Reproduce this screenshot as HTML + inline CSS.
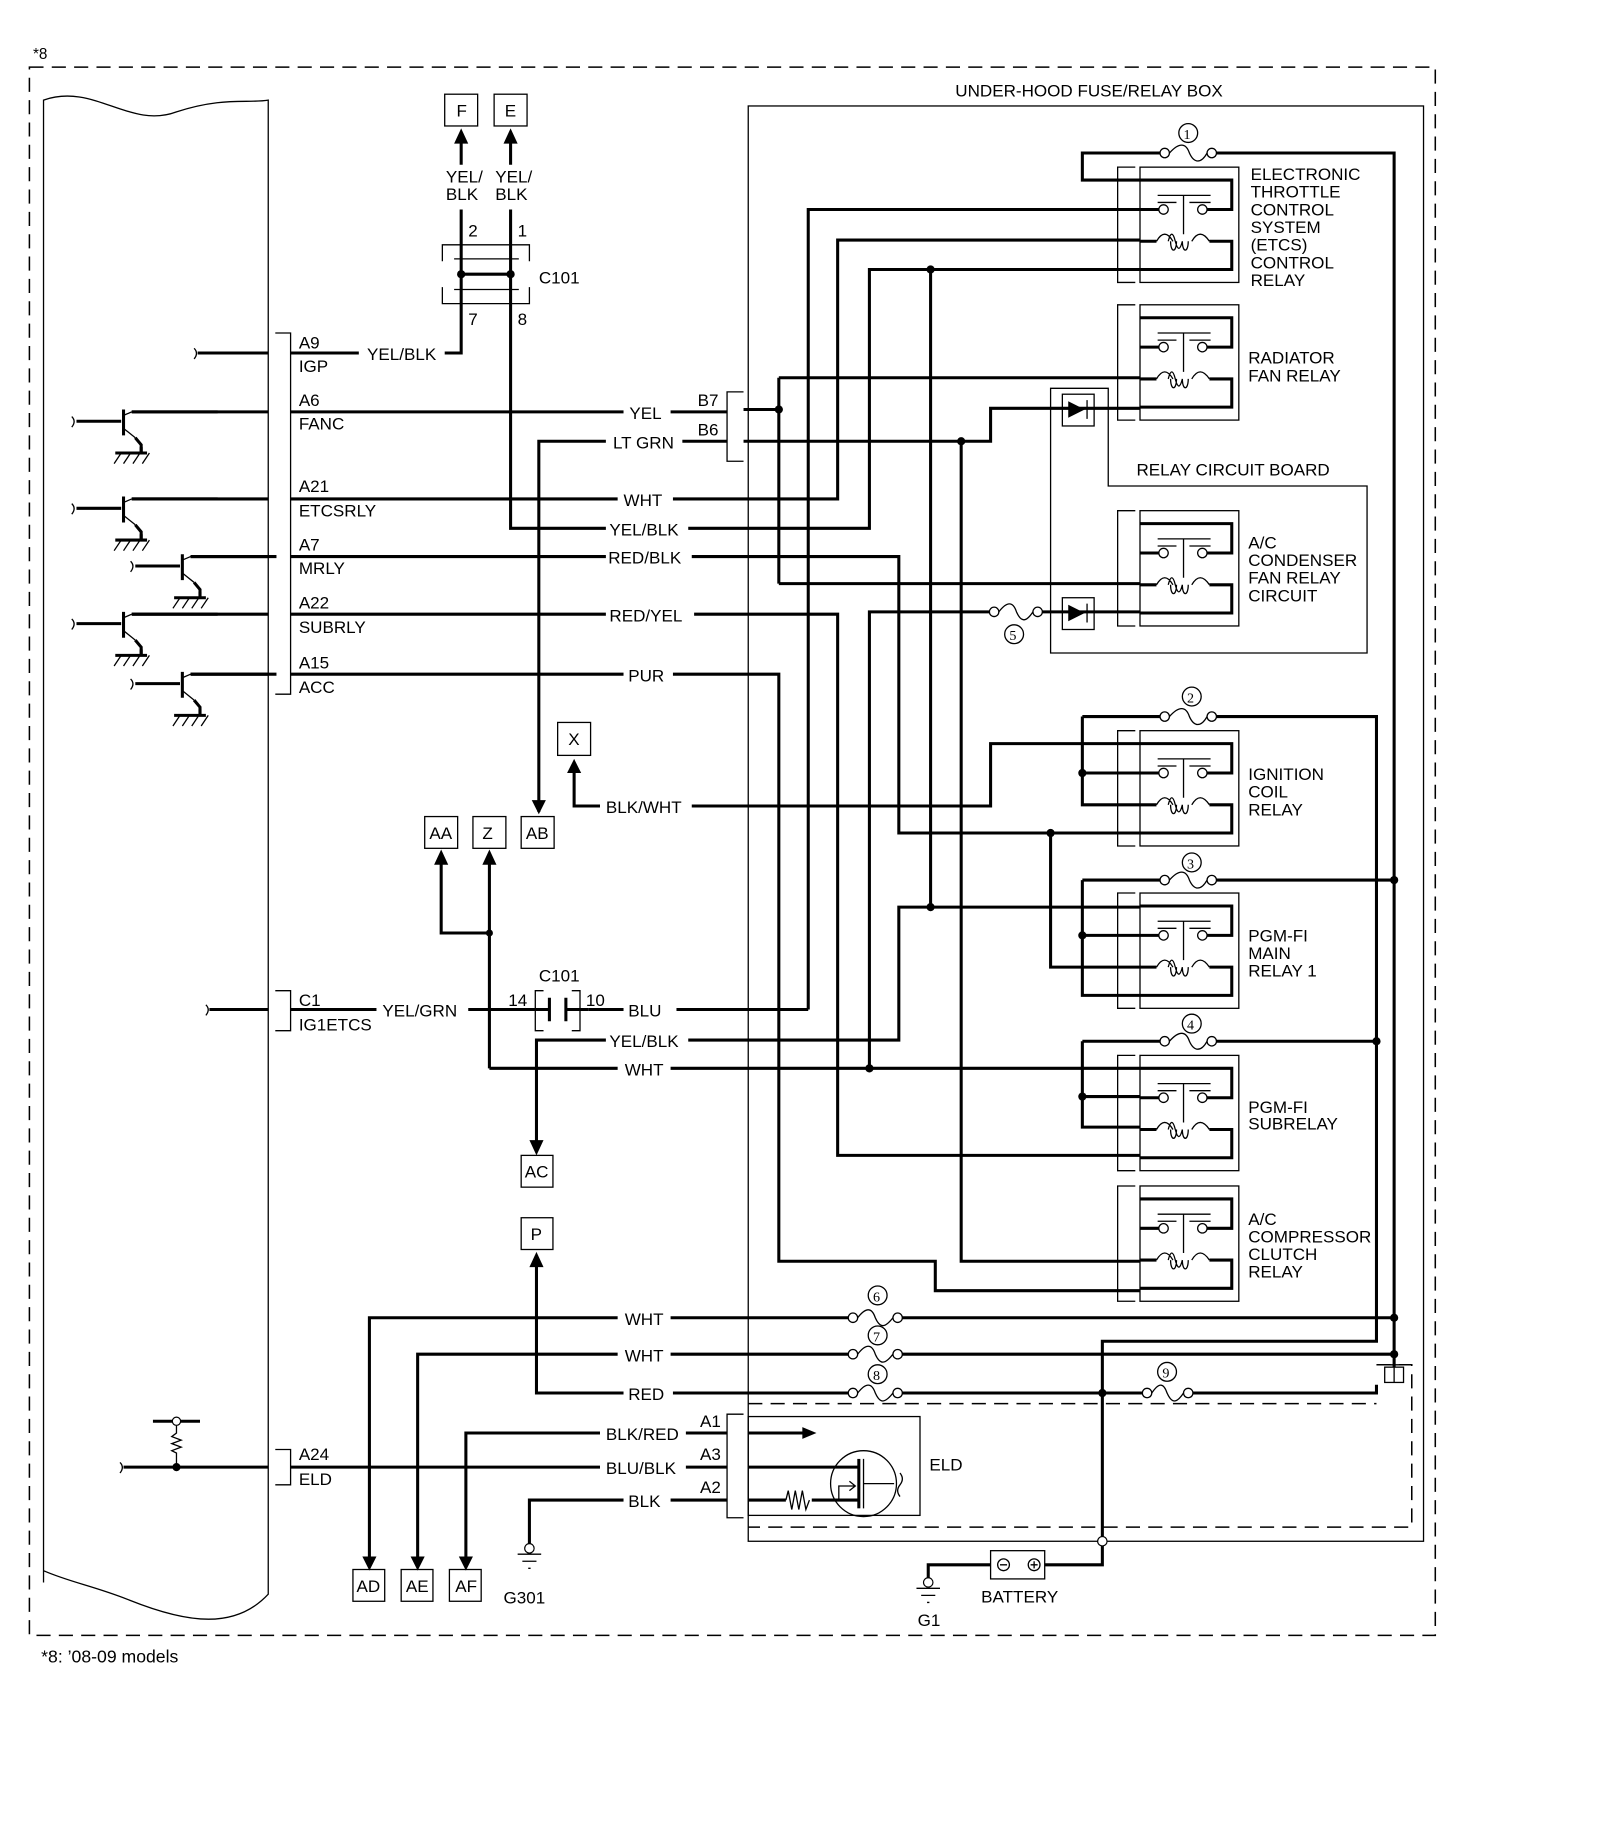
<!DOCTYPE html>
<html><head><meta charset="utf-8"><style>
html,body{margin:0;padding:0;background:#fff}
svg{display:block}
text{font-family:"Liberation Sans",Arial,sans-serif;font-size:14.5px;fill:#000}
.w{stroke:#000;stroke-width:2.6;fill:none}
.t{stroke:#000;stroke-width:1.1;fill:none}
.d{stroke:#000;stroke-width:1.3;fill:none;stroke-dasharray:12 7}
</style></head><body>
<svg width="1600" height="1839" viewBox="0 0 1360 1563" xmlns="http://www.w3.org/2000/svg">
<defs>
<g id="relay">
<path class="t" d="M965,0 H950 V98 H965"/>
<rect class="t" x="969" y="0" width="84" height="98"/>
<path class="w" d="M969,11 H1047 V36 H1026 M969,36 H985 M969,63 H983 M1028,63 H1047 V87 H969"/>
<circle class="t" cx="989" cy="36" r="4"/><circle class="t" cx="1022" cy="36" r="4"/>
<path class="t" d="M984,24 H1029 M984,30 H1000 M1011,30 H1029 M1006,24 V57"/>
<path class="t" d="M983,63 q7,-12 14,0 M993,63 q3,-12 6,0 q3,12 6,0 M1013,63 q7,-12 15,0 M995,63 c0,10 5,10 5,0 M1005,63 c0,10 5,10 5,0"/>
</g>
<g id="tr">
<path class="w" d="M0,8 H38 M40,-2 V20 M55,30 V35"/>
<path class="t" d="M40,3 L47,0 M40,14 L50,22"/>
<path class="w" d="M47,0 H120"/>
<path class="w" d="M50,22 L55,28 V35"/>
<path class="w" d="M33,35 H60"/>
<path class="t" d="M38,35 l-6,9 M46,35 l-6,9 M54,35 l-6,9 M62,35 l-6,9 M-4,4 q4,4 0,9"/>
</g>
</defs>

<text x="28" y="50" style="font-size:13px">*8</text>
<rect class="d" x="25" y="57" width="1195" height="1333"/>
<text x="35" y="1413" style="font-size:15px">*8:  ’08-09 models</text>

<path class="t" d="M37,1345 V85 C80,70 110,110 150,95 C190,82 210,88 228,85 V1355 C200,1385 160,1380 110,1360 C80,1348 60,1345 37,1335"/>

<path class="t" d="M234,283 H247 V590 H234"/>
<path class="t" d="M234,842 H247 V876 H234"/>
<path class="t" d="M234,1232 H247 V1262 H234"/>
<text x="254" y="296">A9</text><text x="254" y="316">IGP</text>
<text x="254" y="345">A6</text><text x="254" y="365">FANC</text>
<text x="254" y="418">A21</text><text x="254" y="439">ETCSRLY</text>
<text x="254" y="468">A7</text><text x="254" y="488">MRLY</text>
<text x="254" y="517">A22</text><text x="254" y="538">SUBRLY</text>
<text x="254" y="568">A15</text><text x="254" y="589">ACC</text>
<text x="254" y="855">C1</text><text x="254" y="876">IG1ETCS</text>
<text x="254" y="1241">A24</text><text x="254" y="1262">ELD</text>

<use href="#tr" transform="translate(65,350)"/>
<path class="w" d="M112,350 H228"/>
<use href="#tr" transform="translate(65,424)"/>
<use href="#tr" transform="translate(115,473)"/>
<use href="#tr" transform="translate(65,522)"/>
<use href="#tr" transform="translate(115,573)"/>
<path class="w" d="M112,424 H228 M162,473 H228 M112,522 H228 M162,573 H228"/>
<path class="w" d="M168,300 H228 M178,858 H228 M105,1247 H228"/>
<path class="t" d="M165,296 q4,4 0,9 M175,854 q4,4 0,9 M102,1243 q4,4 0,9"/>
<path class="w" d="M130,1208 H170"/>
<circle cx="150" cy="1208" r="3.5" fill="#fff" stroke="#000"/>
<path class="t" d="M150,1212 V1218 l-4,3 l8,3 l-8,3 l8,3 l-8,3 l4,2 V1247"/>
<circle cx="150" cy="1247" r="3.5"/>

<path class="w" d="M247,300 H305 M378,300 H392 V258"/>
<text x="312" y="306">YEL/BLK</text>
<path class="w" d="M247,350 H530 M570,350 H618"/><text x="535" y="356">YEL</text>
<path class="w" d="M458,690 V375 H515 M580,375 H618"/>
<path d="M452,680 L458,692 L464,680z"/>
<text x="521" y="381">LT GRN</text>
<path class="w" d="M247,424 H525 M572,424 H712 V204 H969"/><text x="530" y="430">WHT</text>
<path class="w" d="M434,258 V449 H515 M585,449 H739 V229 H969"/><text x="518" y="455">YEL/BLK</text>
<path class="w" d="M247,473 H515 M588,473 H764 V708 H969"/><text x="517" y="479">RED/BLK</text>
<path class="w" d="M247,522 H515 M590,522 H712 V982 H969"/><text x="518" y="528">RED/YEL</text>
<path class="w" d="M247,573 H530 M572,573 H662 V1072 H795 V1097 H969"/><text x="534" y="579">PUR</text>
<path class="w" d="M488,655 V685 H510 M588,685 H842 V632 H969"/>
<path d="M482,657 L488,645 L494,657z"/>
<rect class="t" x="474" y="614" width="28" height="28"/><text x="483" y="633">X</text>
<text x="515" y="691">BLK/WHT</text>

<rect class="t" x="378" y="80" width="28" height="27"/><text x="388" y="99">F</text>
<rect class="t" x="420" y="80" width="28" height="27"/><text x="429" y="99">E</text>
<path class="w" d="M392,140 V118 M434,140 V118"/>
<path d="M386,122 L392,109 L398,122z M428,122 L434,109 L440,122z"/>
<text x="379" y="155">YEL/</text><text x="379" y="170">BLK</text>
<text x="421" y="155">YEL/</text><text x="421" y="170">BLK</text>
<path class="w" d="M392,178 V258 M434,178 V258 M392,233 H434"/>
<circle cx="392" cy="233" r="3.5"/><circle cx="434" cy="233" r="3.5"/>
<path class="t" d="M376,222 V208 H450 V222 M376,244 V258 H450 V244 M386,220 H441 M386,246 H441"/>
<text x="398" y="201">2</text><text x="440" y="201">1</text>
<text x="398" y="276">7</text><text x="440" y="276">8</text>
<text x="458" y="241">C101</text>

<path class="t" d="M632,333 H618 V392 H632"/>
<text x="593" y="345">B7</text><text x="593" y="370">B6</text>
<path class="w" d="M632,348 H662 M662,321 V496 M662,321 H969 M662,496 H969"/>
<circle cx="662" cy="348" r="3.5"/>
<path class="w" d="M632,375 H842 V347 H969 M817,375 V1072 H969"/>
<circle cx="817" cy="375" r="3.5"/>
<path class="w" d="M687,858 V178 H969"/>
<path class="w" d="M739,908 V520 H845 M882,520 H969"/>
<path class="w" d="M791,229 V771"/><circle cx="791" cy="229" r="3.5"/>
<circle cx="791" cy="771" r="3.5"/>
<path class="w" d="M893,708 V822 H969"/><circle cx="893" cy="708" r="3.5"/>

<rect class="t" x="361" y="694" width="28" height="27"/><text x="365" y="713">AA</text>
<rect class="t" x="402" y="694" width="28" height="27"/><text x="410" y="713">Z</text>
<rect class="t" x="443" y="694" width="28" height="27"/><text x="447" y="713">AB</text>
<path class="w" d="M416,908 V732 M416,793 H375 V732"/>
<path d="M410,735 L416,722 L422,735z M369,735 L375,722 L381,735z"/>
<circle cx="416" cy="793" r="3"/>

<path class="w" d="M247,858 H320 M398,858 H455"/><text x="325" y="864">YEL/GRN</text>
<path class="t" d="M462,842 H455 V876 H462 M486,842 H493 V876 H486"/>
<path class="w" d="M467,848 V868 M481,848 V868 M455,858 H467 M481,858 H500"/>
<text x="458" y="834">C101</text><text x="432" y="855">14</text><text x="498" y="855">10</text>
<path class="w" d="M500,858 H530 M575,858 H687"/><text x="534" y="864">BLU</text>
<path class="w" d="M456,972 V884 H515 M585,884 H764 V771 H969"/>
<path d="M450,969 L456,982 L462,969z"/>
<text x="518" y="890">YEL/BLK</text>
<path class="w" d="M416,908 H525 M570,908 H969"/><text x="531" y="914">WHT</text>
<circle cx="739" cy="908" r="3.5"/>
<rect class="t" x="443" y="982" width="27" height="27"/><text x="446" y="1001">AC</text>
<rect class="t" x="443" y="1035" width="27" height="27"/><text x="451" y="1054">P</text>

<path class="w" d="M314,1325 V1120 H525 M570,1120 H725 M763,1120 H1185"/><text x="531" y="1126">WHT</text>
<path class="w" d="M355,1325 V1151 H525 M570,1151 H725 M763,1151 H1185"/><text x="531" y="1157">WHT</text>
<path class="w" d="M456,1075 V1184 H530 M572,1184 H725 M763,1184 H975 M1010,1184 H1170 V1177"/><text x="534" y="1190">RED</text>
<path d="M450,1077 L456,1064 L462,1077z"/>
<path class="w" d="M396,1325 V1218 H510 M583,1218 H618"/><text x="515" y="1224">BLK/RED</text>
<path class="w" d="M247,1247 H510 M583,1247 H618"/><text x="515" y="1253">BLU/BLK</text>
<path class="w" d="M450,1312 V1275 H530 M570,1275 H618"/><text x="534" y="1281">BLK</text>
<path d="M308,1323 L314,1335 L320,1323z M349,1323 L355,1335 L361,1323z M390,1323 L396,1335 L402,1323z"/>
<rect class="t" x="300" y="1334" width="27" height="27"/><text x="303" y="1353">AD</text>
<rect class="t" x="341" y="1334" width="27" height="27"/><text x="345" y="1353">AE</text>
<rect class="t" x="382" y="1334" width="27" height="27"/><text x="387" y="1353">AF</text>
<circle cx="450" cy="1316" r="4" fill="#fff" stroke="#000"/>
<path class="t" d="M440,1321 H460 M444,1327 H456 M449,1333 H451"/>
<text x="428" y="1363">G301</text>

<rect class="t" x="636" y="90" width="574" height="1220"/>
<text x="812" y="82">UNDER-HOOD FUSE/RELAY BOX</text>
<path class="d" d="M636,1193 H1170 M1170,1160 H1200 V1298 H636"/>

<use href="#relay" transform="translate(0,142)"/>
<use href="#relay" transform="translate(0,259)"/>
<use href="#relay" transform="translate(0,434)"/>
<use href="#relay" transform="translate(0,621)"/>
<use href="#relay" transform="translate(0,759)"/>
<use href="#relay" transform="translate(0,897)"/>
<use href="#relay" transform="translate(0,1008)"/>
<text x="1063" y="153">ELECTRONIC</text><text x="1063" y="168">THROTTLE</text><text x="1063" y="183">CONTROL</text><text x="1063" y="198">SYSTEM</text><text x="1063" y="213">(ETCS)</text><text x="1063" y="228">CONTROL</text><text x="1063" y="243">RELAY</text>
<text x="1061" y="309">RADIATOR</text><text x="1061" y="324">FAN RELAY</text>
<text x="1061" y="466">A/C</text><text x="1061" y="481">CONDENSER</text><text x="1061" y="496">FAN RELAY</text><text x="1061" y="511">CIRCUIT</text>
<text x="1061" y="663">IGNITION</text><text x="1061" y="678">COIL</text><text x="1061" y="693">RELAY</text>
<text x="1061" y="800">PGM-FI</text><text x="1061" y="815">MAIN</text><text x="1061" y="830">RELAY 1</text>
<text x="1061" y="946">PGM-FI</text><text x="1061" y="960">SUBRELAY</text>
<text x="1061" y="1041">A/C</text><text x="1061" y="1056">COMPRESSOR</text><text x="1061" y="1071">CLUTCH</text><text x="1061" y="1086">RELAY</text>

<path class="t" d="M893,330 H942 V413 H1162 V555 H893 Z"/>
<text x="966" y="404">RELAY CIRCUIT BOARD</text>
<rect class="t" x="903" y="335" width="27" height="27"/><rect class="t" x="903" y="508" width="27" height="27"/>
<path d="M908,341 L922,348 L908,355z M908,514 L922,521 L908,528z"/>
<path class="t" d="M924,340 V356 M924,513 V529"/>

<path class="w" d="M969,153 H920 V130 H990 M1030,130 H1185 V1162"/>
<path class="w" d="M920,609 H990 M1030,609 H1170 V1140 H937 V1310 M920,609 V684 H969 M920,657 H969"/>
<path class="w" d="M920,748 H990 M1030,748 H1185 M920,748 V846 H969 M920,795 H969"/>
<path class="w" d="M920,885 H990 M1030,885 H1170 M920,885 V958 H969 M920,932 H969"/>
<circle cx="920" cy="657" r="3.5"/><circle cx="920" cy="795" r="3.5"/><circle cx="920" cy="932" r="3.5"/>
<circle cx="1185" cy="748" r="3.5"/><circle cx="1170" cy="885" r="3.5"/>
<circle cx="1185" cy="1120" r="3.5"/><circle cx="1185" cy="1151" r="3.5"/><circle cx="937" cy="1184" r="3.5"/>
<rect class="t" x="1177" y="1162" width="16" height="13"/>
<path class="t" d="M1185,1162 V1175 M1170,1160 H1193"/>

<g class="t">
<path d="M994,130 c8,-9 14,-9 17,0 c4,9 10,9 15,0"/><circle cx="990" cy="130" r="4" fill="#fff"/><circle cx="1030" cy="130" r="4" fill="#fff"/>
<path d="M994,609 c8,-9 14,-9 17,0 c4,9 10,9 15,0"/><circle cx="990" cy="609" r="4" fill="#fff"/><circle cx="1030" cy="609" r="4" fill="#fff"/>
<path d="M994,748 c8,-9 14,-9 17,0 c4,9 10,9 15,0"/><circle cx="990" cy="748" r="4" fill="#fff"/><circle cx="1030" cy="748" r="4" fill="#fff"/>
<path d="M994,885 c8,-9 14,-9 17,0 c4,9 10,9 15,0"/><circle cx="990" cy="885" r="4" fill="#fff"/><circle cx="1030" cy="885" r="4" fill="#fff"/>
<path d="M849,520 c7,-9 12,-9 15,0 c4,9 8,9 14,0"/><circle cx="845" cy="520" r="4" fill="#fff"/><circle cx="882" cy="520" r="4" fill="#fff"/>
<path d="M729,1120 c7,-9 12,-9 15,0 c4,9 8,9 15,0"/><circle cx="725" cy="1120" r="4" fill="#fff"/><circle cx="763" cy="1120" r="4" fill="#fff"/>
<path d="M729,1151 c7,-9 12,-9 15,0 c4,9 8,9 15,0"/><circle cx="725" cy="1151" r="4" fill="#fff"/><circle cx="763" cy="1151" r="4" fill="#fff"/>
<path d="M729,1184 c7,-9 12,-9 15,0 c4,9 8,9 15,0"/><circle cx="725" cy="1184" r="4" fill="#fff"/><circle cx="763" cy="1184" r="4" fill="#fff"/>
<path d="M979,1184 c6,-9 10,-9 13,0 c4,9 8,9 14,0"/><circle cx="975" cy="1184" r="4" fill="#fff"/><circle cx="1010" cy="1184" r="4" fill="#fff"/>
<circle cx="1010" cy="113" r="8"/><circle cx="1013" cy="592" r="8"/><circle cx="1013" cy="733" r="8"/><circle cx="1013" cy="870" r="8"/>
<circle cx="862" cy="539" r="8"/><circle cx="746" cy="1101" r="8"/><circle cx="746" cy="1135" r="8"/><circle cx="746" cy="1168" r="8"/><circle cx="992" cy="1166" r="8"/>
</g>
<text x="1006" y="118" style="font-size:12px;font-family:'Liberation Serif',serif">1</text>
<text x="1009" y="597" style="font-size:12px;font-family:'Liberation Serif',serif">2</text>
<text x="1009" y="738" style="font-size:12px;font-family:'Liberation Serif',serif">3</text>
<text x="1009" y="875" style="font-size:12px;font-family:'Liberation Serif',serif">4</text>
<text x="858" y="544" style="font-size:12px;font-family:'Liberation Serif',serif">5</text>
<text x="742" y="1106" style="font-size:12px;font-family:'Liberation Serif',serif">6</text>
<text x="742" y="1140" style="font-size:12px;font-family:'Liberation Serif',serif">7</text>
<text x="742" y="1173" style="font-size:12px;font-family:'Liberation Serif',serif">8</text>
<text x="988" y="1171" style="font-size:12px;font-family:'Liberation Serif',serif">9</text>

<path class="t" d="M632,1202 H618 V1290 H632"/>
<text x="595" y="1213">A1</text><text x="595" y="1241">A3</text><text x="595" y="1269">A2</text>
<rect class="t" x="636" y="1204" width="146" height="84"/>
<text x="790" y="1250">ELD</text>
<path class="w" d="M636,1218 H684 M636,1247 H730 M636,1275 H668 M690,1275 H730"/>
<path d="M682,1213 L694,1218 L682,1223z"/>
<path class="t" d="M668,1275 l2,-8 l3,16 l3,-16 l3,16 l3,-16 l3,16 l3,-8"/>
<circle class="t" cx="734" cy="1261" r="28"/>
<path class="w" d="M730,1240 V1282"/>
<path class="t" d="M734,1240 V1282 M734,1261 H760 M713,1275 V1263 H727 M722,1259 l5,4 l-5,4 M765,1252 q4,5 0,10 q-4,5 0,10"/>

<path class="w" d="M937,1312 V1330 H888 M842,1330 H789 V1341"/>
<circle cx="937" cy="1310" r="4" fill="#fff" stroke="#000"/>
<rect class="t" x="842" y="1318" width="46" height="24"/>
<circle class="t" cx="853" cy="1330" r="5"/><circle class="t" cx="879" cy="1330" r="5"/>
<path class="t" d="M850,1330 H856 M876,1330 H882 M879,1327 V1333"/>
<text x="834" y="1362">BATTERY</text>
<circle cx="789" cy="1345" r="4" fill="#fff" stroke="#000"/>
<path class="t" d="M779,1350 H799 M783,1356 H795 M788,1362 H790"/>
<text x="780" y="1382">G1</text>
</svg>
</body></html>
